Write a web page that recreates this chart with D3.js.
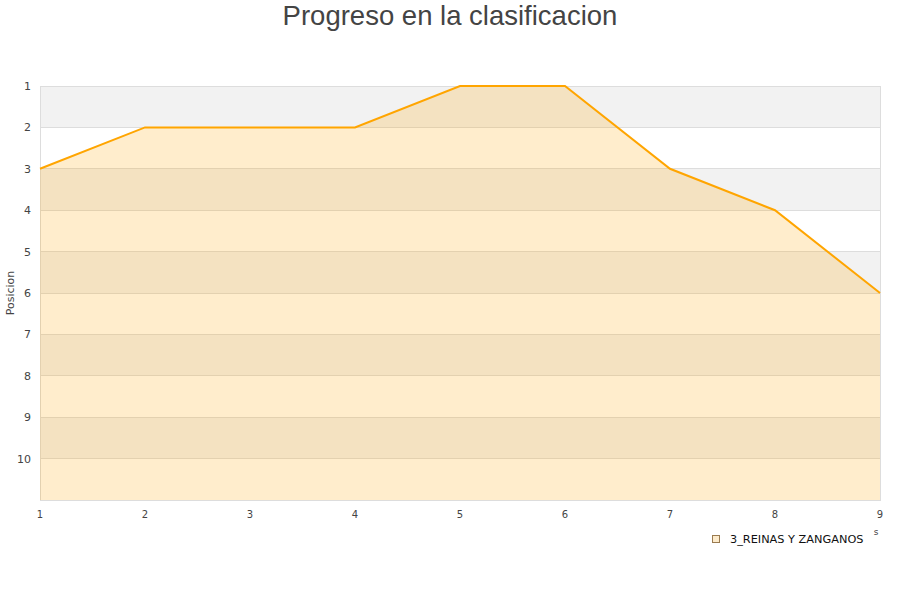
<!DOCTYPE html>
<html><head><meta charset="utf-8">
<script src="https://cdn.jsdelivr.net/npm/d3@7"></script>
<style>body{margin:0;background:#fff}svg{display:block}</style>
</head><body>
<svg id="c" width="900" height="600"></svg>
<script>
const jornadas = [1,2,3,4,5,6,7,8,9];
const posiciones = [3,2,2,2,1,1,3,4,6];
const yTicks = [1,2,3,4,5,6,7,8,9,10];
const seriesName = "3_REINAS Y ZANGANOS";
const titleText = "Progreso en la clasificacion";
const yLabel = "Posicion";

const svg = d3.select("#c");
const m = {l:40, r:880, t:86, b:500};
const x = d3.scaleLinear().domain([1,9]).range([m.l, m.r]);
const y = d3.scaleLinear().domain([1,11]).range([m.t, m.b]);

// alternating bands
const bands = d3.range(1,11);
svg.append("g").selectAll("rect").data(bands).join("rect")
  .attr("x", m.l).attr("width", m.r-m.l)
  .attr("y", d=>y(d)).attr("height", d=>y(d+1)-y(d))
  .attr("fill", d=> d%2===1 ? "#f2f2f2" : "#ffffff");

// grid lines
svg.append("g").selectAll("line").data(d3.range(2,11)).join("line")
  .attr("x1", m.l).attr("x2", m.r)
  .attr("y1", d=>y(d)).attr("y2", d=>y(d))
  .attr("stroke","#dddddd").attr("stroke-width",1).attr("shape-rendering","crispEdges");

// plot border
svg.append("rect").attr("x",m.l).attr("y",m.t).attr("width",m.r-m.l).attr("height",m.b-m.t)
  .attr("fill","none").attr("stroke","#dddddd").attr("shape-rendering","crispEdges");

const pts = jornadas.map((j,i)=>[j,posiciones[i]]);
const area = d3.area().x(d=>x(d[0])).y0(m.b).y1(d=>y(d[1]));
svg.append("path").datum(pts).attr("d", area).attr("fill","#ffa500").attr("fill-opacity",0.2);
const line = d3.line().x(d=>x(d[0])).y(d=>y(d[1]));
svg.append("path").datum(pts).attr("d", line).attr("fill","none").attr("stroke","#ffa500").attr("stroke-width",2);

// y axis labels
svg.append("g").selectAll("text").data(yTicks).join("text")
  .attr("x", 31).attr("y", d=>y(d)+4).attr("text-anchor","end")
  .attr("font-family","DejaVu Sans, sans-serif").attr("font-size",11).attr("fill","#444")
  .text(d=>d);
// x axis labels
svg.append("g").selectAll("text").data(jornadas).join("text")
  .attr("x", d=>x(d)).attr("y", 518).attr("text-anchor","middle")
  .attr("font-family","DejaVu Sans, sans-serif").attr("font-size",10).attr("fill","#444")
  .text(d=>d);

svg.append("text").attr("transform","translate(14,293) rotate(-90)").attr("text-anchor","middle")
  .attr("font-family","DejaVu Sans, sans-serif").attr("font-size",11).attr("fill","#444").text(yLabel);

svg.append("text").attr("x",450).attr("y",25).attr("text-anchor","middle")
  .attr("font-family","Liberation Sans, Arial, sans-serif").attr("font-size",27.5).attr("fill","#444")
  .text(titleText);

// legend
svg.append("text").attr("x",876).attr("y",535).attr("text-anchor","middle")
  .attr("font-family","DejaVu Sans, sans-serif").attr("font-size",9).attr("fill","#444").text("s");
const lg = svg.append("g");
lg.append("rect").attr("x",712.5).attr("y",535.5).attr("width",7).attr("height",7)
  .attr("fill","#fdebcb").attr("stroke","#9a7b50").attr("stroke-width",1);
lg.append("text").attr("x",730).attr("y",543).attr("font-family","DejaVu Sans, sans-serif")
  .attr("font-size",11.3).attr("fill","#111").text(seriesName);
</script>
</body></html>
